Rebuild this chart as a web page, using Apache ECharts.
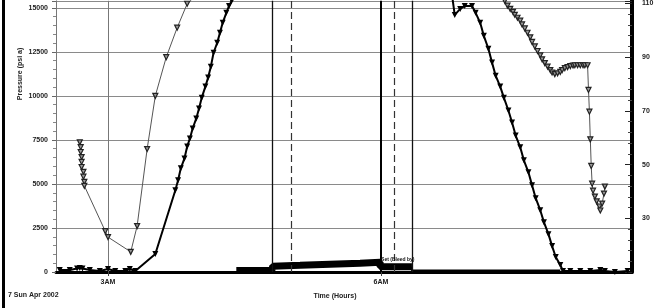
<!DOCTYPE html>
<html><head><meta charset="utf-8">
<script src="https://cdn.jsdelivr.net/npm/echarts@6/dist/echarts.min.js"></script>
<style>html,body{margin:0;padding:0;background:#fff}#c{width:665px;height:308px}</style>
</head><body><div id="c"></div><script>
// ---- data (hours of day, values) ----
const xTickValues = [3, 6];
const xTickLabels = ['3AM', '6AM'];
const gridHours = [3];
const hourSixLine = [6];
const solidEvents = [4.81, 6.34];
const dashedEvents = [5.01, 6.15];
const dateLabel = '7 Sun Apr 2002';
const annotationText = 'Set (Bleed by)';

// pressure, psi a (left axis)
const pressureMain = [
  [2.47,110],[2.58,110],[2.66,200],[2.69,230],[2.72,200],[2.80,110],[2.91,60],[3.00,170],[3.08,60],
  [3.19,60],[3.24,170],[3.30,60],[3.52,1020],[3.74,4640],[3.77,5210],[3.80,5890],[3.84,6450],
  [3.87,7130],[3.90,7580],[3.93,8150],[3.97,8720],[4.00,9280],[4.03,9900],[4.07,10530],[4.10,11040],
  [4.13,11660],[4.16,12450],[4.20,13020],[4.23,13580],[4.26,14150],[4.30,14720],[4.33,15110],
  [4.36,15400],[4.41,15960],[6.76,16500],[6.81,14600],[6.87,14940],[6.92,15110],[7.00,15110],
  [7.04,14720],[7.09,14150],[7.13,13410],[7.18,12680],[7.22,11890],[7.26,11150],[7.31,10530],
  [7.35,9900],[7.40,9170],[7.44,8490],[7.48,7750],[7.53,7080],[7.57,6340],[7.62,5660],[7.66,4920],
  [7.70,4190],[7.75,3510],[7.79,2830],[7.84,2150],[7.88,1470],[7.92,850],[7.97,400],[8.00,60],
  [8.08,60],[8.19,60],[8.30,60],[8.41,110],[8.46,60],[8.57,0],[8.71,60]
];
// low-rate pressure band during the hold
const holdBand = [
  [4.41,80],[4.60,80],[4.80,80],[4.81,330],[5.11,380],[5.44,440],[5.77,500],[5.99,550],
  [5.99,300],[6.34,300]
];
const holdTail = [[6.34,300],[6.34,80],[7.00,80],[7.50,80],[7.97,80]];
const holdGap = [[5.33,140],[5.97,140]];

// temperature (right axis)
const tempSeries = [
  [2.69,58.3],[2.70,56.5],[2.70,54.7],[2.71,52.8],[2.71,51.0],[2.71,49.1],[2.73,47.3],[2.73,45.5],
  [2.74,43.6],[2.74,42.1],[2.97,25.2],[3.00,23.0],[3.25,17.5],[3.32,27.1],[3.43,55.8],[3.52,75.6],
  [3.64,90.0],[3.76,101.0],[3.87,109.9],[3.96,112.8],[4.20,117],[7.30,117],[7.36,111.0],[7.39,109.2],
  [7.42,108.0],[7.45,106.9],[7.47,105.8],[7.50,104.7],[7.53,103.6],[7.55,102.2],[7.58,100.7],
  [7.61,99.1],[7.64,97.4],[7.66,95.7],[7.69,94.0],[7.72,92.3],[7.75,90.7],[7.77,89.2],[7.80,87.8],
  [7.83,86.5],[7.86,85.2],[7.88,84.3],[7.91,83.7],[7.94,84.0],[7.97,84.5],[7.99,85.2],[8.02,85.9],
  [8.05,86.3],[8.08,86.7],[8.11,86.9],[8.13,87.0],[8.16,87.0],[8.19,87.0],[8.22,87.0],[8.24,87.0],
  [8.27,87.0],[8.28,77.8],[8.29,69.7],[8.30,59.4],[8.31,49.5],[8.32,42.9],[8.33,40.3],[8.35,38.1],
  [8.37,36.3],[8.40,34.4],[8.41,32.9],[8.43,35.5],[8.45,39.2],[8.46,41.8]
];

const textStyle = {fontFamily:'Liberation Sans, Arial, sans-serif', fontSize:7, fontWeight:'bold', color:'#222'};
const chart = echarts.init(document.getElementById('c'), null, {renderer:'canvas'});

const vLines = [];
gridHours.forEach(v => vLines.push({xAxis:v, lineStyle:{color:'#777', width:1, type:'solid'}}));
hourSixLine.forEach(v => vLines.push({xAxis:v, lineStyle:{color:'#000', width:2, type:'solid'}}));
solidEvents.forEach(v => vLines.push({xAxis:v, lineStyle:{color:'#111', width:1.3, type:'solid'}}));
dashedEvents.forEach(v => vLines.push({xAxis:v, lineStyle:{color:'#333', width:1.2, type:[7,4]}}));

chart.setOption({
  animation:false,
  backgroundColor:'#fff',
  grid:{left:56, right:33, top:0, bottom:36, containLabel:false},
  xAxis:{
    type:'value', min:2.4286, max:8.758,
    name:'Time (Hours)', nameLocation:'middle', nameGap:21,
    nameTextStyle:Object.assign({}, textStyle, {padding:[0,18,0,0]}),
    axisLine:{show:true, lineStyle:{color:'#000', width:3}},
    axisTick:{show:true, customValues:xTickValues, length:4, lineStyle:{color:'#444'}},
    axisLabel:Object.assign({}, textStyle, {customValues:xTickValues, margin:7,
      formatter:v => xTickLabels[xTickValues.indexOf(v)] || ''}),
    splitLine:{show:false}
  },
  yAxis:[{
    type:'value', min:0, max:15400, interval:2500, position:'left',
    axisLine:{show:true, lineStyle:{color:'#777', width:1}},
    axisTick:{show:true, length:4, lineStyle:{color:'#666'}},
    minorTick:{show:true, splitNumber:5, length:3, lineStyle:{color:'#888'}},
    axisLabel:Object.assign({}, textStyle, {margin:8, showMaxLabel:false, formatter:v => String(v)}),
    splitLine:{show:true, lineStyle:{color:'#8a8a8a', width:1}}
  },{
    type:'value', min:10, max:111, interval:20, position:'right',
    axisLine:{show:true, lineStyle:{color:'#000', width:4}},
    axisTick:{show:true, inside:true, length:7, lineStyle:{color:'#222', width:1}},
    minorTick:{show:true, splitNumber:5, length:4, lineStyle:{color:'#444'}},
    axisLabel:Object.assign({}, textStyle, {margin:10, showMaxLabel:false, showMinLabel:false, formatter:v => String(v)}),
    splitLine:{show:false}
  }],
  graphic:[
    {type:'rect', shape:{x:2, y:0, width:3, height:308}, style:{fill:'#000'}},
    {type:'text', x:20, y:74, rotation:Math.PI/2,
      style:{text:'Pressure (psi a)', font:'bold 7px Liberation Sans, Arial', fill:'#222', textAlign:'center', textVerticalAlign:'middle'}},
    {type:'text', x:8, y:292, style:{text:dateLabel, font:'bold 7px Liberation Sans, Arial', fill:'#222'}}
  ],
  series:[
    {
      type:'line', yAxisIndex:0, data:holdBand, clip:true,
      lineStyle:{color:'#000', width:7}, showSymbol:false, z:3,
      markLine:{silent:true, symbol:'none', label:{show:false}, data:vLines},
      markPoint:{symbol:'rect', symbolSize:0, data:[{coord:[5.99,700], label:{show:true, position:'right', distance:1,
        formatter:annotationText, fontSize:5, fontWeight:'bold', color:'#111', fontFamily:'Liberation Sans, Arial'}}]}
    },
    {
      type:'line', yAxisIndex:0, data:holdTail, clip:true,
      lineStyle:{color:'#000', width:2}, showSymbol:false, z:3
    },
    {
      type:'line', yAxisIndex:0, data:holdGap, showSymbol:false,
      lineStyle:{color:'#fff', width:1.5}, z:4
    },
    {
      type:'line', yAxisIndex:0, data:pressureMain, clip:true,
      lineStyle:{color:'#000', width:2},
      symbol:'triangle', symbolRotate:180, symbolSize:6, showAllSymbol:true,
      itemStyle:{color:'#000'}, z:5
    },
    {
      type:'line', yAxisIndex:1, data:tempSeries, clip:true,
      lineStyle:{color:'#555', width:1},
      symbol:'triangle', symbolRotate:180, symbolSize:5, showAllSymbol:true,
      itemStyle:{color:'#999', borderColor:'#222', borderWidth:1.2}, z:6
    }
  ]
});
</script></body></html>
